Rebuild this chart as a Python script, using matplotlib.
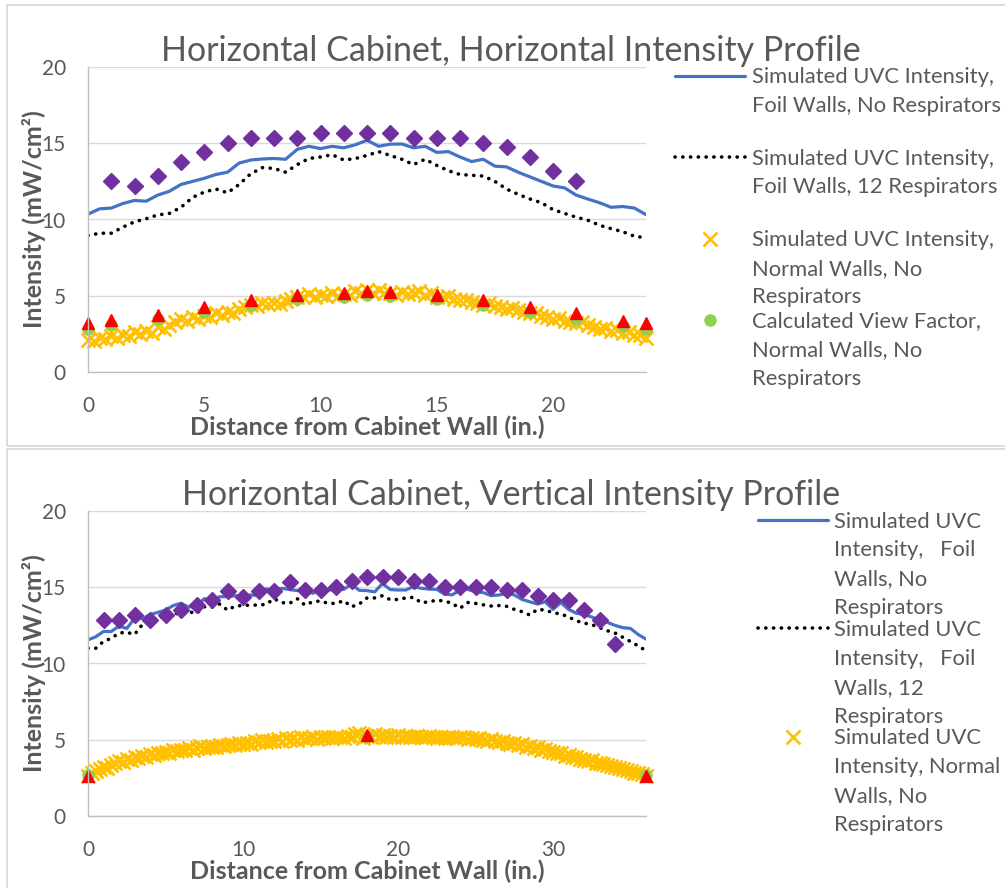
import matplotlib
matplotlib.use('Agg')
import matplotlib.pyplot as plt
from matplotlib.lines import Line2D
from matplotlib.patches import Rectangle
import numpy as np

W, H = 1005, 888
FONT = 'Lato'
GREY = '#595959'

# ---------------- data: horizontal profile (top) ----------------
h_x_line = np.arange(0, 24.01, 0.5)
h_foil_no_resp = [10.35, 10.7, 10.75, 11.05, 11.25, 11.2, 11.6, 11.85, 12.3,
                  12.5, 12.7, 12.95, 13.1, 13.7, 13.9, 13.97, 14.0, 13.95, 14.6,
                  14.8, 14.65, 14.8, 14.7, 14.9, 15.2, 14.8, 14.94, 14.95, 14.7,
                  14.8, 14.4, 14.45, 14.1, 13.8, 13.95, 13.5, 13.45, 13.1, 12.8,
                  12.5, 12.2, 12.07, 11.6, 11.34, 11.1, 10.8, 10.85, 10.75, 10.32]
h_foil_12_resp = [8.95, 9.1, 9.1, 9.5, 9.85, 10.05, 10.3, 10.4, 10.8, 11.45,
                  11.8, 12.0, 11.75, 12.3, 13.0, 13.4, 13.35, 13.1, 13.6, 14.0,
                  14.1, 14.25, 13.9, 14.0, 14.2, 14.45, 14.2, 13.95, 13.6, 13.95,
                  13.55, 13.2, 12.95, 12.9, 12.85, 12.5, 12.0, 11.65, 11.35, 11.1,
                  10.65, 10.4, 10.15, 9.95, 9.62, 9.4, 9.2, 8.9, 8.8]

h_x_normal = np.arange(0, 24.01, 0.25)
h_normal = [2.10, 2.00, 2.25, 2.15, 2.35,
            2.20, 2.45, 2.35, 2.60, 2.50, 2.70, 2.55, 2.95, 2.85, 3.10, 3.25, 3.45,
            3.35, 3.60, 3.50, 3.70, 3.60, 3.85, 3.75, 3.95, 3.90, 4.10, 4.25, 4.40,
            4.35, 4.55, 4.45, 4.55, 4.45, 4.65, 4.80, 4.95, 4.90, 5.10, 4.95, 5.05,
            5.00, 5.15, 5.00, 5.10, 5.05, 5.30, 5.15, 5.35, 5.20, 5.40, 5.15, 5.20,
            5.05, 5.25, 5.10, 5.20, 5.30, 5.05, 5.15, 4.95, 4.90, 5.00, 4.80, 4.70,
            4.75, 4.60, 4.55, 4.40, 4.50, 4.35, 4.25, 4.15, 4.20, 4.05, 3.95, 3.85,
            3.90, 3.70, 3.60, 3.50, 3.55, 3.35, 3.30, 3.20, 3.25, 3.05, 2.95, 2.85,
            2.90, 2.70, 2.75, 2.55, 2.60, 2.40, 2.45, 2.20]

h_x_diam = np.arange(1, 22)
h_diam = [12.55, 12.2, 12.85, 13.75, 14.4, 15.0, 15.35, 15.35, 15.35, 15.65, 15.65,
          15.65, 15.65, 15.35, 15.35, 15.35, 15.0, 14.75, 14.1, 13.2, 12.55]

h_x_pts = [0, 1, 3, 5, 7, 9, 11, 12, 13, 15, 17, 19, 21, 23, 24]
h_measured = [3.2, 3.4, 3.75, 4.25, 4.7, 5.05, 5.2, 5.3, 5.25, 5.05, 4.7, 4.28, 3.85, 3.37, 3.2]
h_viewfac = [2.85, 3.05, 3.45, 3.95, 4.4, 4.8, 4.95, 5.05, 5.0, 4.8, 4.4, 3.95, 3.5, 3.0, 2.85]

# ---------------- data: vertical profile (bottom) ----------------
v_x_line = np.arange(0, 36.01, 0.5)
v_foil_no_resp = [11.55, 11.75, 12.1, 12.1, 12.45, 12.3, 12.95, 12.95, 13.2, 13.35,
                  13.5, 13.8, 13.95, 13.7, 13.75, 14.25, 14.15, 14.38, 14.38, 14.45,
                  14.38, 14.5, 14.45, 14.9, 14.76, 14.93, 14.85, 14.78, 14.88, 14.6,
                  14.86, 14.82, 14.86, 14.86, 15.2, 14.8, 14.78, 14.7, 15.25, 14.85,
                  14.82, 14.82, 15.04, 14.93, 14.88, 14.86, 14.55, 14.5, 14.82, 14.86,
                  14.7, 14.65, 14.45, 14.49, 14.6, 14.5, 14.2, 14.05, 13.9, 14.05,
                  13.55, 14.0, 13.55, 13.3, 13.2, 13.05, 12.85, 12.7, 12.5, 12.35,
                  12.3, 11.9, 11.6]
v_foil_12_resp = [11.0, 11.0, 11.45, 11.65, 12.0, 12.05, 11.9, 12.55, 12.9, 13.0,
                  13.1, 13.18, 13.4, 13.4, 13.28, 13.72, 13.7, 13.9, 13.5, 13.77,
                  13.8, 13.83, 13.83, 13.88, 14.25, 14.0, 13.94, 14.25, 13.83, 14.05,
                  14.1, 13.94, 13.94, 14.12, 13.72, 13.9, 14.3, 14.3, 14.45, 14.18,
                  14.2, 14.3, 14.34, 13.98, 14.05, 14.15, 14.1, 13.94, 13.62, 14.0,
                  13.94, 13.85, 13.77, 13.8, 13.75, 13.55, 13.4, 13.18, 13.55, 13.5,
                  13.33, 13.25, 13.05, 12.8, 12.65, 12.55, 12.35, 12.15, 12.0, 11.72,
                  11.44, 11.15, 10.84]

v_x_normal = np.arange(0, 36.01, 0.25)
v_normal = [2.60, 2.85, 2.95, 3.05, 3.20,
            3.15, 3.35, 3.45, 3.60, 3.55, 3.75, 3.70, 3.85, 3.80, 3.95, 3.90, 4.05,
            4.00, 4.15, 4.10, 4.20, 4.15, 4.30, 4.25, 4.35, 4.30, 4.45, 4.35, 4.45,
            4.60, 4.45, 4.50, 4.55, 4.50, 4.65, 4.60, 4.65, 4.70, 4.65, 4.80, 4.75,
            4.80, 4.70, 4.90, 4.85, 5.00, 4.85, 4.95, 4.95, 5.05, 4.95, 5.10, 5.00,
            5.10, 5.00, 5.15, 5.05, 5.10, 5.20, 5.05, 5.15, 5.10, 5.20, 5.10, 5.15,
            5.20, 5.10, 5.25, 5.15, 5.35, 5.45, 5.10, 5.25, 5.20, 5.35, 5.25, 5.30,
            5.15, 5.25, 5.20, 5.30, 5.20, 5.25, 5.15, 5.20, 5.25, 5.20, 5.15, 5.25,
            5.15, 5.10, 5.20, 5.10, 5.15, 5.20, 5.10, 5.20, 5.15, 5.05, 5.10, 5.05,
            5.10, 5.00, 4.95, 5.05, 4.95, 4.85, 4.90, 4.80, 4.70, 4.80, 4.65, 4.70,
            4.55, 4.60, 4.45, 4.50, 4.35, 4.40, 4.25, 4.20, 4.15, 4.10, 3.95, 4.00,
            3.85, 3.90, 3.75, 3.70, 3.60, 3.65, 3.50, 3.45, 3.40, 3.35, 3.25, 3.20,
            3.15, 3.05, 3.00, 2.95, 2.85, 2.80, 2.75, 2.65]

v_x_diam = np.arange(1, 35)
v_diam = [12.85, 12.85, 13.18, 12.85, 13.18, 13.51, 13.84, 14.16, 14.78, 14.38,
          14.78, 14.78, 15.37, 14.8, 14.8, 15.04, 15.41, 15.69, 15.65, 15.69,
          15.41, 15.41, 15.04, 15.04, 15.04, 15.04, 14.79, 14.79, 14.4, 14.14,
          14.14, 13.48, 12.87, 11.28]

v_x_pts = [0, 18, 36]
v_measured = [2.62, 5.31, 2.62]
v_viewfac = [2.72, 5.15, 2.72]

h_legend = ['Simulated UVC Intensity,\nFoil Walls, No Respirators',
            'Simulated UVC Intensity,\nFoil Walls, 12 Respirators',
            'Simulated UVC Intensity,\nNormal Walls, No\nRespirators',
            'Calculated View Factor,\nNormal Walls, No\nRespirators']
v_legend = ['Simulated UVC\nIntensity,   Foil\nWalls, No\nRespirators',
            'Simulated UVC\nIntensity,   Foil\nWalls, 12\nRespirators',
            'Simulated UVC\nIntensity, Normal\nWalls, No\nRespirators']

# ---------------- styles ----------------
BLUE = '#4472C4'
sty_blue = dict(color=BLUE, lw=2.3, solid_capstyle='round')
sty_black = dict(color='black', lw=2.6, linestyle=(0, (0.05, 2.1)), dash_capstyle='round')
sty_x = dict(ls='none', marker='x', ms=10, mew=1.9, color='#FFC000')
sty_green = dict(ls='none', marker='o', ms=8, color='#92D050', mec='#92D050')
sty_diam = dict(ls='none', marker='D', ms=8, color='#7030A0', mec='#7030A0')
sty_tri = dict(ls='none', marker='^', ms=9, color='#FF0000', mec='#FF0000')


def fx(px):
    return px / W


def fy(py):
    return 1 - py / H


fig = plt.figure(figsize=(W / 100, H / 100), dpi=100)

# chart-area frames
for (x0, y0, x1, y1) in [(7, 5, 1012, 446), (7, 449, 1012, 900)]:
    fig.add_artist(Rectangle((fx(x0), fy(y1)), fx(x1) - fx(x0), fy(y0) - fy(y1),
                             transform=fig.transFigure, fill=False,
                             edgecolor='#D9D9D9', lw=1.3))


def setup(ax, xmax, xticks):
    ax.set_xlim(0, xmax)
    ax.set_ylim(0, 20)
    ax.set_xticks(xticks)
    ax.set_yticks([0, 5, 10, 15, 20])
    ax.grid(axis='y', color='#D9D9D9', lw=1.0)
    ax.set_axisbelow(True)
    for s in ['top', 'right']:
        ax.spines[s].set_visible(False)
    for s in ['left', 'bottom']:
        ax.spines[s].set_color('#BFBFBF')
        ax.spines[s].set_linewidth(1.0)
    ax.tick_params(length=0, colors=GREY, labelsize=15)
    ax.tick_params(axis='y', pad=16)
    ax.tick_params(axis='x', pad=17)
    for lab in ax.get_xticklabels() + ax.get_yticklabels():
        lab.set_fontfamily(FONT)
    ax.set_xlabel('Distance from Cabinet Wall (in.)', fontsize=18, fontweight='bold',
                  color=GREY, family=FONT, labelpad=0)
    ax.set_ylabel('Intensity (mW/cm²)', fontsize=18, fontweight='bold',
                  color=GREY, family=FONT, labelpad=-3)


def legend(entries, styles, xl0, xl1, xt, y0, pitch, lpitch):
    for i, (lab, st) in enumerate(zip(entries, styles)):
        yc = y0 + i * pitch
        if st.get('ls') == 'none':
            fig.add_artist(Line2D([fx((xl0 + xl1) / 2)], [fy(yc)], transform=fig.transFigure, **st))
        else:
            fig.add_artist(Line2D([fx(xl0), fx(xl1)], [fy(yc)] * 2, transform=fig.transFigure, **st))
        for j, t in enumerate(lab.split('\n')):
            fig.text(fx(xt), fy(yc + j * lpitch + 7.5), t, ha='left', va='baseline',
                     fontsize=15.8, color=GREY, family=FONT)


# ---------------- top chart ----------------
ax1 = fig.add_axes([fx(88), fy(372), fx(646) - fx(88), fy(67) - fy(372)])
setup(ax1, 24, [0, 5, 10, 15, 20])
ax1.plot(h_x_line, h_foil_no_resp, **sty_blue)
ax1.plot(h_x_line, h_foil_12_resp, **sty_black)
ax1.plot(h_x_normal, h_normal, clip_on=False, **sty_x)
ax1.plot(h_x_pts, h_viewfac, clip_on=False, **sty_green)
ax1.plot(h_x_diam, h_diam, **sty_diam)
ax1.plot(h_x_pts, h_measured, clip_on=False, **sty_tri)
fig.text(fx(511), fy(61), 'Horizontal Cabinet, Horizontal Intensity Profile',
         ha='center', va='baseline', fontsize=24.5, color=GREY, family=FONT)
legend(h_legend, [sty_blue, sty_black, sty_x, sty_green], 675, 745, 752, 75.7, 81.4, 28.7)

# ---------------- bottom chart ----------------
ax2 = fig.add_axes([fx(88), fy(816), fx(646) - fx(88), fy(511) - fy(816)])
setup(ax2, 36, [0, 10, 20, 30])
ax2.plot(v_x_line, v_foil_no_resp, **sty_blue)
ax2.plot(v_x_line, v_foil_12_resp, **sty_black)
ax2.plot(v_x_normal, v_normal, clip_on=False, **sty_x)
ax2.plot(v_x_pts, v_viewfac, clip_on=False, **sty_green)
ax2.plot(v_x_diam, v_diam, **sty_diam)
ax2.plot(v_x_pts, v_measured, clip_on=False, **sty_tri)
fig.text(fx(511), fy(505), 'Horizontal Cabinet, Vertical Intensity Profile',
         ha='center', va='baseline', fontsize=24.5, color=GREY, family=FONT)
legend(v_legend, [sty_blue, sty_black, sty_x], 758, 828, 834, 520, 108.3, 29)

fig.savefig('out.png', dpi=100)
